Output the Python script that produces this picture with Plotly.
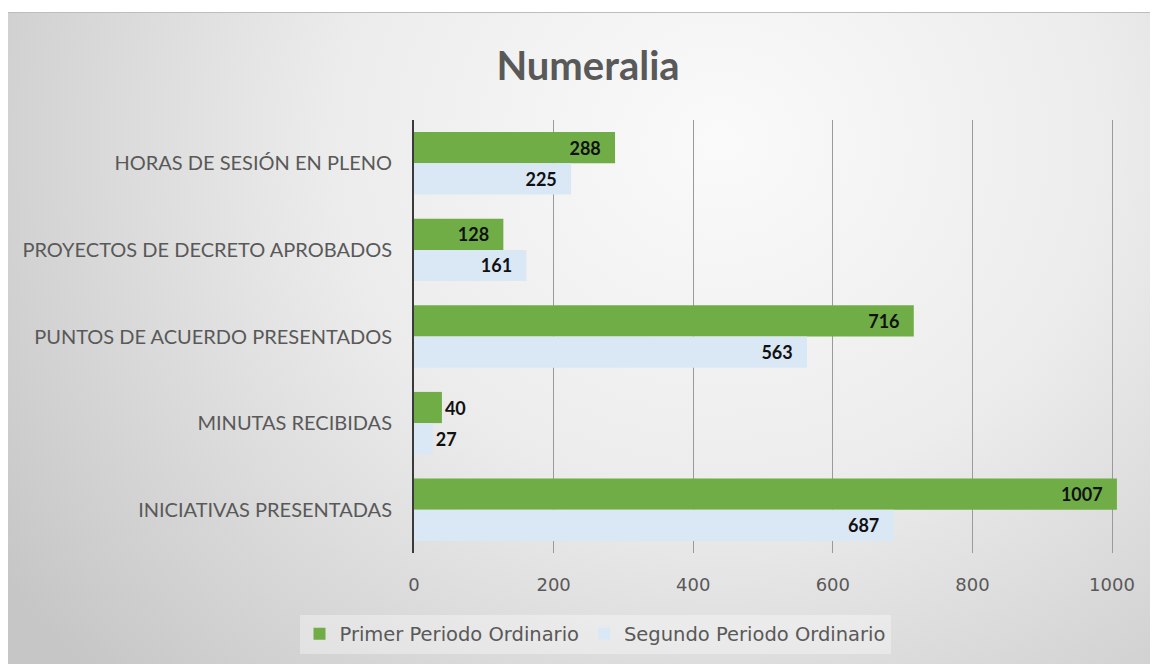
import base64
import plotly.graph_objects as go

categories = ["HORAS DE SESIÓN EN PLENO", "PROYECTOS DE DECRETO APROBADOS",
              "PUNTOS DE ACUERDO PRESENTADOS", "MINUTAS RECIBIDAS",
              "INICIATIVAS PRESENTADAS"]
primer = [288, 128, 716, 40, 1007]
segundo = [225, 161, 563, 27, 687]
series_names = ["Primer Periodo Ordinario", "Segundo Periodo Ordinario"]
tick_vals = [0, 200, 400, 600, 800, 1000]

W, H = 1158, 664
# page is offset by the 8px body margin
L, R, T, B = 406, 47, 112, 119

svg = '''<svg xmlns="http://www.w3.org/2000/svg" width="1150" height="652" viewBox="0 0 1150 652" preserveAspectRatio="none">
<defs><radialGradient id="g" cx="0.62" cy="0.2" r="0.75" fx="0.62" fy="0.2" gradientTransform="translate(0.62 0.2) scale(1 1.6) translate(-0.62 -0.2)">
<stop offset="0" stop-color="#fafafa"/><stop offset="0.45" stop-color="#ececec"/><stop offset="1" stop-color="#c6c6c6"/></radialGradient></defs>
<rect width="1150" height="652" fill="url(#g)"/>
<line x1="0" y1="0.5" x2="1150" y2="0.5" stroke="#bdbdbd" stroke-width="1"/>
</svg>'''
src = "data:image/svg+xml;base64," + base64.b64encode(svg.encode()).decode()

pw = W - L - R
ph = H - T - B

def textpos(vals):
    return ["outside" if v < 60 else "inside" for v in vals]

label_font = dict(family="Lato", size=18, color="#111111", weight="bold")
pad = "\u2002\u2009"

fig = go.Figure()
fig.add_trace(go.Bar(
    y=categories, x=primer, name=series_names[0], orientation="h",
    marker=dict(color="#70AD47", line=dict(width=0)),
    text=[f"{v}{pad}" if v >= 60 else f"{v}" for v in primer],
    textposition=textpos(primer), insidetextanchor="end",
    textfont=label_font, constraintext="none",
    cliponaxis=False,
))
fig.add_trace(go.Bar(
    y=categories, x=segundo, name=series_names[1], orientation="h",
    marker=dict(color="#DAE8F6", line=dict(width=0)),
    text=[f"{v}{pad}" if v >= 60 else f"{v}" for v in segundo],
    textposition=textpos(segundo), insidetextanchor="end",
    textfont=label_font, constraintext="none",
    cliponaxis=False,
))

fig.update_layout(
    width=W, height=H,
    margin=dict(l=L, r=R, t=T, b=B, autoexpand=False),
    paper_bgcolor="white", plot_bgcolor="rgba(0,0,0,0)",
    barmode="group", bargap=0.28, bargroupgap=0,
    title=dict(text="<b>Numeralia</b>", x=580 / W, xanchor="center",
               y=1 - 58 / H, yanchor="middle",
               font=dict(family="Lato", size=40, color="#595959")),
    legend=dict(orientation="h", x=(587 - L) / pw, xanchor="center",
                y=-(626 - (T + ph)) / ph, yanchor="middle",
                font=dict(family="DejaVu Sans", size=19.5, color="#595959"),
                bgcolor="rgba(255,255,255,0.35)", itemwidth=30,
                traceorder="normal"),
    images=[dict(source=src, xref="paper", yref="paper",
                 x=(0 - L) / pw, y=(T + ph - 4) / ph,
                 sizex=1150 / pw, sizey=652 / ph,
                 sizing="stretch", xanchor="left", yanchor="top",
                 layer="below")],
)
fig.update_xaxes(range=[0, 1010], tickvals=tick_vals,
                 showgrid=True, gridcolor="#9a9a9a", gridwidth=1,
                 zeroline=False, showline=False,
                 ticks="outside", ticklen=15, tickcolor="rgba(0,0,0,0)",
                 tickfont=dict(family="DejaVu Sans", size=18, color="#595959"))
fig.update_yaxes(autorange="reversed", showgrid=False, zeroline=False,
                 showline=True, linecolor="#3a3a3a", linewidth=2,
                 ticks="outside", ticklen=16, tickcolor="rgba(0,0,0,0)",
                 tickfont=dict(family="Lato", size=20, color="#595959"))

fig.write_html("out.html")
